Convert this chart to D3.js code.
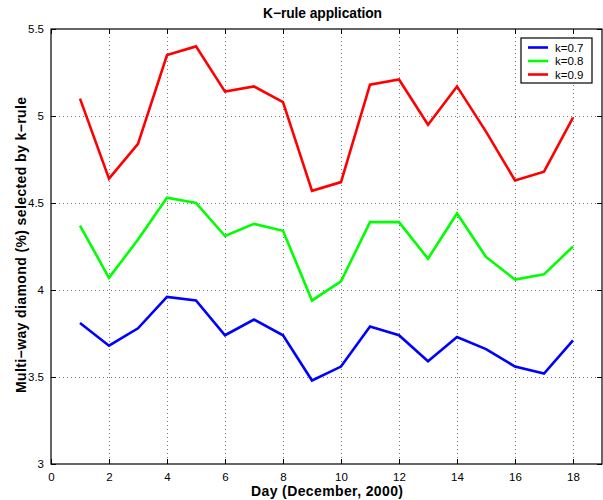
<!DOCTYPE html>
<html>
<head>
<meta charset="utf-8">
<script src="https://cdn.jsdelivr.net/npm/d3@7"></script>
<style>
  body { margin: 0; background: #fff; }
  svg { display: block; font-family: "Liberation Sans", Arial, Helvetica, sans-serif; }
</style>
</head>
<body>
<svg id="chart" width="603" height="500"></svg>
<script>
// Days of December 2000
const days = [1, 2, 3, 4, 5, 6, 7, 8, 9, 10, 11, 12, 13, 14, 15, 16, 17, 18];

// Percentage of multi-way diamonds selected for each k value
const k07 = [3.81, 3.68, 3.78, 3.96, 3.94, 3.74, 3.83, 3.74, 3.48, 3.56, 3.79, 3.74, 3.59, 3.73, 3.66, 3.56, 3.52, 3.71];
const k08 = [4.37, 4.07, 4.29, 4.53, 4.50, 4.31, 4.38, 4.34, 3.94, 4.05, 4.39, 4.39, 4.18, 4.44, 4.19, 4.06, 4.09, 4.25];
const k09 = [5.10, 4.64, 4.84, 5.35, 5.40, 5.14, 5.17, 5.08, 4.57, 4.62, 5.18, 5.21, 4.95, 5.17, 4.91, 4.63, 4.68, 4.99];

const seriesNames = ["k=0.7", "k=0.8", "k=0.9"];
const seriesColors = ["#0000ff", "#00ff00", "#ff0000"];

const xTicks = [0, 2, 4, 6, 8, 10, 12, 14, 16, 18];
const yTicks = [3, 3.5, 4, 4.5, 5, 5.5];

const series = [k07, k08, k09].map((vals, i) => ({
  name: seriesNames[i],
  color: seriesColors[i],
  points: vals.map((v, j) => ({ day: days[j], value: v }))
}));

const svg = d3.select("#chart");
const m = { left: 51, right: 602, top: 29, bottom: 464 };

const x = d3.scaleLinear().domain([0, 19]).range([m.left, m.right]);
const y = d3.scaleLinear().domain([3, 5.5]).range([m.bottom, m.top]);

// dotted grid
const grid = svg.append("g");
grid.selectAll("line.gx").data(xTicks.filter(t => t > 0)).join("line")
  .attr("x1", d => x(d) + 0.5).attr("x2", d => x(d) + 0.5)
  .attr("y1", m.top).attr("y2", m.bottom)
  .attr("stroke", "#555").attr("stroke-width", 0.8).attr("stroke-dasharray", "1,3");
grid.selectAll("line.gy").data(yTicks.filter(t => t > 3 && t < 5.5)).join("line")
  .attr("y1", d => y(d) + 0.5).attr("y2", d => y(d) + 0.5)
  .attr("x1", m.left).attr("x2", m.right)
  .attr("stroke", "#555").attr("stroke-width", 0.8).attr("stroke-dasharray", "1,3");

// axes with inward ticks on all four sides
const fmt = d => String(d);
const axB = svg.append("g").attr("transform", `translate(0,${m.bottom})`)
  .call(d3.axisBottom(x).tickValues(xTicks).tickFormat(fmt).tickSizeInner(-5).tickSizeOuter(0).tickPadding(9));
const axT = svg.append("g").attr("transform", `translate(0,${m.top})`)
  .call(d3.axisTop(x).tickValues(xTicks).tickFormat("").tickSizeInner(-5).tickSizeOuter(0));
const axL = svg.append("g").attr("transform", `translate(${m.left},0)`)
  .call(d3.axisLeft(y).tickValues(yTicks).tickFormat(fmt).tickSizeInner(-5).tickSizeOuter(0).tickPadding(9));
const axR = svg.append("g").attr("transform", `translate(${m.right},0)`)
  .call(d3.axisRight(y).tickValues(yTicks).tickFormat("").tickSizeInner(-5).tickSizeOuter(0));

[axB, axT, axL, axR].forEach(a => {
  a.select(".domain").remove();
  a.selectAll("line").attr("stroke", "#000");
  a.selectAll("text").attr("fill", "#000").style("font-size", "11.5px")
    .style("font-family", '"Liberation Sans", Arial, sans-serif');
});
axL.selectAll(".tick text").attr("dx", 2);

// series lines
const line = d3.line().x(d => x(d.day)).y(d => y(d.value));
svg.append("g").selectAll("path").data(series).join("path")
  .attr("d", d => line(d.points))
  .attr("fill", "none")
  .attr("stroke", d => d.color)
  .attr("stroke-width", 2.6)
  .attr("stroke-linejoin", "miter");

// axes box
svg.append("rect")
  .attr("x", m.left).attr("y", m.top)
  .attr("width", m.right - m.left).attr("height", m.bottom - m.top)
  .attr("fill", "none").attr("stroke", "#000").attr("stroke-width", 1.2);

// legend
const lg = svg.append("g").attr("transform", "translate(521,38)");
lg.append("rect").attr("width", 71).attr("height", 45)
  .attr("fill", "#fff").attr("stroke", "#000").attr("stroke-width", 1.2);
const rows = lg.selectAll("g.row").data(series).join("g")
  .attr("transform", (d, i) => `translate(0,${9.5 + i * 13.5})`);
rows.append("line").attr("x1", 7).attr("x2", 27).attr("y1", 0).attr("y2", 0)
  .attr("stroke", d => d.color).attr("stroke-width", 2.6);
rows.append("text").attr("x", 34).attr("y", 0).attr("dy", "0.35em")
  .style("font-size", "11.5px").text(d => d.name);

// title and axis labels
svg.append("text").attr("x", 322.5).attr("y", 18).attr("text-anchor", "middle")
  .attr("textLength", 119).attr("lengthAdjust", "spacing")
  .style("font-size", "13.8px").style("font-weight", "bold").text("K\u2212rule application");
svg.append("text").attr("x", 327).attr("y", 496).attr("text-anchor", "middle")
  .attr("textLength", 152).attr("lengthAdjust", "spacing")
  .style("font-size", "14px").style("font-weight", "bold").text("Day (December, 2000)");
svg.append("text").attr("transform", "translate(26,245) rotate(-90)").attr("text-anchor", "middle")
  .attr("textLength", 296).attr("lengthAdjust", "spacing")
  .style("font-size", "14px").style("font-weight", "bold")
  .text("Multi\u2212way diamond (%) selected by k\u2212rule");
</script>
</body>
</html>
